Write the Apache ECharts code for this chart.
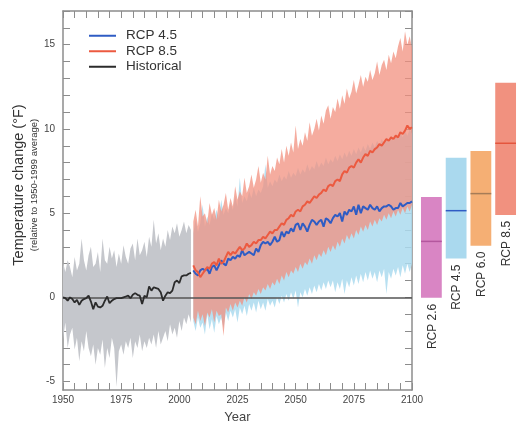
<!DOCTYPE html>
<html>
<head>
<meta charset="utf-8">
<script src="https://cdn.jsdelivr.net/npm/echarts@6/dist/echarts.min.js"></script>
<style>
html, body { margin: 0; padding: 0; background: #fff; }
#chart { width: 518px; height: 429px; }
</style>
</head>
<body>
<div id="chart"></div>
<script>
// yearly values, historical 1950-2005, projections 2006-2100
var histStart = 1950
var projStart = 2006

var histMean = [0, -0.05, -0.2, 0, -0.1, -0.3, -0.15, -0.45, -0.2, -0.1,
    -0.05, 0.1, -0.25, -0.7, -0.3, -0.55, -0.6, -0.5, -0.2, 0.05,
    -0.35, -0.2, -0.1, -0.05, -0.05, -0.05, 0, 0.05, 0.1, -0.05,
    0.15, 0.25, 0.15, 0.1, -0.4, 0.1, 0, 0.65, 0.4, 0.6,
    0.55, 0.5, 0.3, -0.2, 0.1, 0.3, 0.25, 0.4, 0.9, 1.0,
    0.85, 1.25, 1.3, 1.3, 1.4, 1.45]
var histUpper = [2.1, 1.5, 2.2, 1.8, 1.2, 2.4, 1.6, 2.0, 3.5, 2.2,
    1.6, 2.5, 3.0, 1.8, 2.0, 2.7, 1.5, 3.5, 2.2, 2.0,
    3.0, 2.3, 2.8, 1.8, 2.6, 2.0, 3.1, 2.4, 2.0, 2.9,
    3.2, 2.2, 3.5, 2.5, 2.8, 3.3, 2.4, 3.6, 3.0, 4.6,
    3.2, 3.8, 2.8, 3.5, 3.0, 4.0, 3.4, 4.2, 3.8, 4.4,
    3.6, 4.0, 4.5, 3.8, 4.3, 4.0]
var histLower = [-2.5, -1.5, -3.0, -2.2, -1.8, -3.1, -2.4, -3.8, -2.6, -3.2,
    -2.0, -3.0, -3.5, -2.8, -4.0, -3.0, -3.4, -2.5, -4.2, -3.0,
    -3.6, -2.4, -3.0, -5.3, -3.2, -2.8, -3.4, -2.6, -3.0, -2.4,
    -3.6, -2.6, -3.0, -2.2, -3.2, -2.6, -3.0, -2.4, -2.8, -2.2,
    -3.0, -2.0, -2.8, -2.4, -2.0, -2.6, -1.6, -2.2, -1.8, -2.4,
    -1.4, -2.0, -1.2, -1.6, -1.0, -1.5]

var rcp45Mean = [1.6, 1.4, 1.3, 1.6, 1.7, 1.6, 1.7, 1.4, 1.8, 1.9,
    1.6, 1.9, 2.2, 2.0, 1.9, 2.3, 2.2, 2.4, 2.3, 2.5,
    2.4, 2.8, 2.5, 2.6, 2.7, 2.6, 2.5, 2.9, 2.7, 3.1,
    3.3, 3.2, 3.3, 3.1, 3.3, 3.6, 3.3, 3.4, 3.9, 3.6,
    3.9, 3.8, 4.1, 3.9, 4.3, 4.4, 4.0, 4.4, 4.2, 3.9,
    4.3, 4.6, 4.5, 4.3, 4.5, 4.6, 4.2, 4.7, 4.6, 4.4,
    4.7, 4.9, 4.8, 5.0, 4.5, 5.1, 4.9, 5.2, 5.1, 5.4,
    4.9, 5.5, 5.0, 5.4, 5.3, 5.2, 5.5, 5.3, 5.2, 5.4,
    5.1, 5.3, 5.4, 5.4, 5.5, 5.4, 5.2, 5.3, 5.3, 5.6,
    5.4, 5.5, 5.6, 5.6, 5.7]
var rcp45Upper = [3.8, 4.6, 3.9, 4.4, 5.5, 4.2, 4.8, 4.3, 5.0, 4.6,
    5.2, 4.7, 5.8, 4.9, 5.3, 5.0, 5.6, 5.2, 6.0, 5.4,
    7.1, 5.6, 6.0, 5.7, 6.3, 5.9, 6.5, 6.0, 6.4, 6.2,
    6.6, 7.9, 6.5, 6.9, 6.6, 7.0, 6.8, 7.3, 6.9, 7.2,
    7.0, 7.5, 7.1, 7.4, 7.2, 7.7, 7.3, 7.6, 7.4, 7.9,
    7.5, 7.8, 7.6, 8.1, 7.7, 8.0, 7.8, 8.3, 7.9, 8.2,
    8.0, 8.4, 8.1, 8.5, 8.2, 8.6, 8.3, 8.7, 8.4, 8.8,
    8.5, 8.9, 8.6, 9.0, 8.7, 9.1, 8.8, 9.2, 8.9, 9.3,
    9.0, 9.4, 9.1, 9.5, 9.2, 9.6, 9.3, 9.7, 9.4, 9.8,
    9.5, 9.9, 9.6, 10.0, 9.7]
var rcp45Lower = [-1.4, -2.0, -1.2, -1.8, -1.5, -2.2, -1.0, -1.9, -1.3, -2.1,
    -1.1, -1.6, -1.2, -1.8, -0.9, -1.4, -0.8, -1.2, -0.7, -1.5,
    -0.6, -1.0, -0.5, -1.1, -0.4, -0.8, -0.3, -0.9, -0.2, -0.7,
    -0.3, -0.8, -0.1, -0.5, -0.2, -0.6, 0.0, -0.4, 0.1, -0.3,
    0.2, -0.2, 0.3, -0.1, 0.4, -0.6, 0.3, 0.0, 0.5, 0.1,
    0.6, 0.2, 0.7, 0.3, 0.8, 0.4, 0.9, 0.5, 1.0, 0.6,
    1.0, 0.3, 0.9, 0.5, 1.1, 0.2, 1.0, 0.6, 1.2, 0.7,
    1.3, 0.8, 1.4, 0.9, 1.5, 1.0, 1.6, 1.1, 1.5, 0.9,
    1.6, 1.2, 1.7, 0.2, 1.5, 1.1, 1.7, 1.3, 1.8, 1.2,
    1.9, 1.4, 2.0, 1.5, 2.0]

var rcp85Mean = [1.9, 1.6, 1.5, 1.2, 1.4, 1.6, 1.8, 1.7, 2.0, 2.1,
    1.9, 2.3, 2.0, 2.1, 2.4, 2.7, 2.5, 2.7, 2.6, 2.8,
    3.0, 2.8, 2.9, 3.2, 3.0, 3.1, 3.3, 3.2, 3.4, 3.4,
    3.6, 3.5, 3.7, 3.9, 3.8, 4.0, 4.0, 4.2, 4.4, 4.3,
    4.6, 4.7, 4.9, 4.8, 5.1, 5.2, 5.1, 5.4, 5.5, 5.7,
    5.6, 5.8, 6.0, 5.9, 6.1, 6.2, 6.4, 6.3, 6.6, 6.7,
    6.6, 6.9, 7.0, 6.9, 7.3, 7.5, 7.4, 7.7, 7.8, 7.7,
    8.0, 8.2, 8.0, 8.3, 8.5, 8.4, 8.7, 8.6, 8.8, 8.9,
    9.1, 9.0, 9.2, 9.4, 9.3, 9.5, 9.4, 9.6, 9.5, 9.8,
    9.7, 9.9, 10.2, 10.0, 10.1]
var rcp85Upper = [4.5, 5.2, 4.2, 6.0, 4.8, 5.0, 4.4, 5.6, 4.9, 5.3,
    4.6, 5.8, 5.1, 5.5, 6.2, 5.2, 5.9, 5.4, 6.6, 5.8,
    6.3, 6.0, 7.1, 6.2, 6.6, 7.3, 6.5, 7.0, 7.8, 6.8,
    7.4, 7.0, 8.4, 7.3, 7.8, 7.5, 8.3, 7.9, 8.8, 8.0,
    9.0, 8.4, 9.2, 8.6, 10.2, 8.8, 9.4, 9.0, 9.8, 9.3,
    10.4, 9.6, 10.0, 10.6, 9.9, 10.8, 10.3, 11.1, 11.4, 10.6,
    11.3, 11.0, 11.8, 11.2, 12.0, 11.5, 12.4, 11.8, 12.2, 12.9,
    12.1, 12.6, 13.2, 12.5, 13.1, 12.8, 13.5, 12.9, 13.3, 14.0,
    13.2, 13.8, 14.1, 13.5, 14.4, 13.9, 14.6, 14.2, 14.9, 15.4,
    14.6, 15.8, 15.0, 15.5, 14.8]
var rcp85Lower = [-1.2, -1.6, -0.8, -1.4, -1.0, -1.7, -0.9, -1.2, -0.7, -1.5,
    -0.8, -1.1, -1.0, -2.3, -0.6, -0.9, -0.4, -0.8, -0.3, -0.6,
    -0.2, -0.5, 0.0, -0.3, 0.2, -0.1, 0.3, 0.1, 0.5, 0.2,
    0.6, 0.4, 0.8, 0.5, 0.9, 0.7, 1.1, 0.8, 1.3, 1.0,
    1.5, 1.2, 1.6, 1.4, 1.8, 1.5, 2.0, 1.7, 2.1, 1.9,
    2.3, 2.0, 2.5, 2.2, 2.6, 2.4, 2.8, 2.5, 3.0, 2.7,
    3.1, 2.8, 3.3, 3.0, 3.5, 3.2, 3.7, 3.4, 3.8, 3.5,
    4.0, 3.7, 4.2, 3.9, 4.3, 4.0, 4.5, 4.2, 4.6, 4.3,
    4.7, 4.5, 4.9, 4.6, 5.0, 4.7, 5.1, 4.8, 5.2, 4.9,
    5.3, 5.0, 5.4, 5.1, 5.5]

// end-of-century ranges (low, high, median)
var scenarios = ['RCP 2.6', 'RCP 4.5', 'RCP 6.0', 'RCP 8.5']
var rangeLow = [0.2, 2.5, 3.25, 5.05]
var rangeHigh = [6.1, 8.4, 8.8, 12.8]
var rangeMedian = [3.5, 5.3, 6.3, 9.25]

var boxFill = ['#d985c4', '#aad9ee', '#f5af74', '#f1917f']
var boxMid = ['#b4579e', '#2f5cc4', '#a67c57', '#e4553d']

function pairs(start, arr) {
    return arr.map(function (v, i) { return [start + i, v] })
}

// spread of the model runs as a filled polygon between upper and lower envelope
function band(name, start, hi, lo, color, opacity) {
    return {
        name: name, type: 'custom', silent: true, z: 1,
        data: [[start, lo[0]]],
        renderItem: function (params, api) {
            var pts = []
            for (var i = 0; i < hi.length; i++) pts.push(api.coord([start + i, hi[i]]))
            for (var j = lo.length - 1; j >= 0; j--) pts.push(api.coord([start + j, lo[j]]))
            return {
                type: 'polygon',
                shape: { points: pts },
                style: { fill: color, opacity: opacity }
            }
        }
    }
}

var myChart = echarts.init(document.getElementById('chart'))

var axisGrey = '#8c8c8c'
var yTicks = []
for (var t = -5; t <= 17; t++) yTicks.push(t)

var option = {
    animation: false,
    backgroundColor: '#ffffff',
    textStyle: { fontFamily: 'Liberation Sans' },
    grid: [
        { left: 63, right: 106, top: 11, bottom: 34 },
        { left: 419, width: 100, top: 11, bottom: 34 }
    ],
    legend: {
        data: ['RCP 4.5', 'RCP 8.5', 'Historical'],
        orient: 'vertical',
        left: 84,
        top: 23,
        icon: 'rect',
        itemWidth: 27,
        itemHeight: 2,
        itemGap: 0,
        textStyle: { fontSize: 13.5, lineHeight: 15.5, color: '#333', padding: [0, 0, 0, 5] }
    },
    xAxis: [
        {
            type: 'value', min: 1950, max: 2100, interval: 25, gridIndex: 0,
            axisLine: { onZero: false, lineStyle: { color: axisGrey, width: 1.5 } },
            axisTick: { inside: true, length: 7, lineStyle: { color: axisGrey } },
            minorTick: { show: true, splitNumber: 5, length: 7, lineStyle: { color: axisGrey } },
            axisLabel: {
                color: '#444', fontSize: 10, margin: 5,
                formatter: function (v) { return String(v) }
            },
            splitLine: { show: false },
            name: 'Year', nameLocation: 'middle', nameGap: 21,
            nameTextStyle: { color: '#444', fontSize: 13 }
        },
        {
            type: 'value', min: 1950, max: 2100, interval: 25, gridIndex: 0, position: 'top',
            axisLine: { onZero: false, lineStyle: { color: axisGrey, width: 1.5 } },
            axisTick: { inside: true, length: 7, lineStyle: { color: axisGrey } },
            minorTick: { show: true, splitNumber: 5, length: 7, lineStyle: { color: axisGrey } },
            axisLabel: { show: false },
            splitLine: { show: false }
        },
        {
            type: 'category', gridIndex: 1, data: scenarios,
            show: false
        }
    ],
    yAxis: [
        {
            type: 'value', min: -5.5, max: 17, gridIndex: 0,
            axisLine: { show: true, onZero: false, lineStyle: { color: axisGrey, width: 1.5 } },
            axisTick: { show: true, inside: true, length: 7, customValues: yTicks, lineStyle: { color: axisGrey } },
            axisLabel: { color: '#444', fontSize: 10, margin: 8, customValues: [-5, 0, 5, 10, 15] },
            splitLine: { show: false }
        },
        {
            type: 'value', min: -5.5, max: 17, gridIndex: 0, position: 'right',
            axisLine: { show: true, onZero: false, lineStyle: { color: axisGrey, width: 1.5 } },
            axisTick: { show: true, inside: true, length: 7, customValues: yTicks, lineStyle: { color: axisGrey } },
            axisLabel: { show: false },
            splitLine: { show: false }
        },
        {
            type: 'value', min: -5.5, max: 17, gridIndex: 1, show: false
        }
    ],
    graphic: [
        {
            type: 'text', x: 19, y: 185, rotation: Math.PI / 2,
            style: {
                text: 'Temperature change (°F)', fill: '#333',
                font: '14.5px "Liberation Sans"', align: 'center', verticalAlign: 'middle'
            }
        },
        {
            type: 'text', x: 34, y: 185, rotation: Math.PI / 2,
            style: {
                text: '(relative to 1950-1999 average)', fill: '#333',
                font: '9.5px "Liberation Sans"', align: 'center', verticalAlign: 'middle'
            }
        }
    ],
    series: []
}

var s = option.series
s.push(band('hist_band', histStart, histUpper, histLower, '#c5c7cc', 1))
s.push(band('rcp45_band', projStart, rcp45Upper, rcp45Lower, '#acdaef', 0.85))
s.push(band('rcp85_band', projStart, rcp85Upper, rcp85Lower, '#f2907f', 0.75))

s.push({
    name: 'zero', type: 'line', data: [], z: 3, silent: true,
    markLine: {
        symbol: 'none', silent: true, label: { show: false },
        lineStyle: { color: '#555', width: 1.5, type: 'solid' },
        data: [{ yAxis: 0 }]
    }
})
s.push({
    name: 'Historical', type: 'line', data: pairs(histStart, histMean), symbol: 'none',
    lineStyle: { color: '#2b2b2b', width: 1.8 }, itemStyle: { color: '#2b2b2b' }, z: 5
})
s.push({
    name: 'RCP 4.5', type: 'line', data: pairs(projStart, rcp45Mean), symbol: 'none',
    lineStyle: { color: '#2f5cc4', width: 2 }, itemStyle: { color: '#2f5cc4' }, z: 5
})
s.push({
    name: 'RCP 8.5', type: 'line', data: pairs(projStart, rcp85Mean), symbol: 'none',
    lineStyle: { color: '#ec5a40', width: 2 }, itemStyle: { color: '#ec5a40' }, z: 6
})

s.push({
    name: 'ranges', type: 'custom', xAxisIndex: 2, yAxisIndex: 2, silent: true,
    data: scenarios.map(function (n, i) { return [i, rangeLow[i], rangeHigh[i], rangeMedian[i]] }),
    renderItem: function (params, api) {
        var i = params.dataIndex
        var pLo = api.coord([api.value(0), api.value(1)])
        var pHi = api.coord([api.value(0), api.value(2)])
        var pMed = api.coord([api.value(0), api.value(3)])
        var w = api.size([1, 0])[0] * 0.84
        return {
            type: 'group',
            children: [
                {
                    type: 'rect',
                    shape: { x: pLo[0] - w / 2, y: pHi[1], width: w, height: pLo[1] - pHi[1] },
                    style: { fill: boxFill[i] }
                },
                {
                    type: 'line',
                    shape: { x1: pMed[0] - w / 2, y1: pMed[1], x2: pMed[0] + w / 2, y2: pMed[1] },
                    style: { stroke: boxMid[i], lineWidth: 1.5 }
                },
                {
                    type: 'text', x: pLo[0] + 1, y: pLo[1] + 6, rotation: Math.PI / 2,
                    style: {
                        text: scenarios[i], fill: '#333', font: '12px "Liberation Sans"',
                        align: 'right', verticalAlign: 'middle'
                    }
                }
            ]
        }
    }
})

myChart.setOption(option)
</script>
</body>
</html>
